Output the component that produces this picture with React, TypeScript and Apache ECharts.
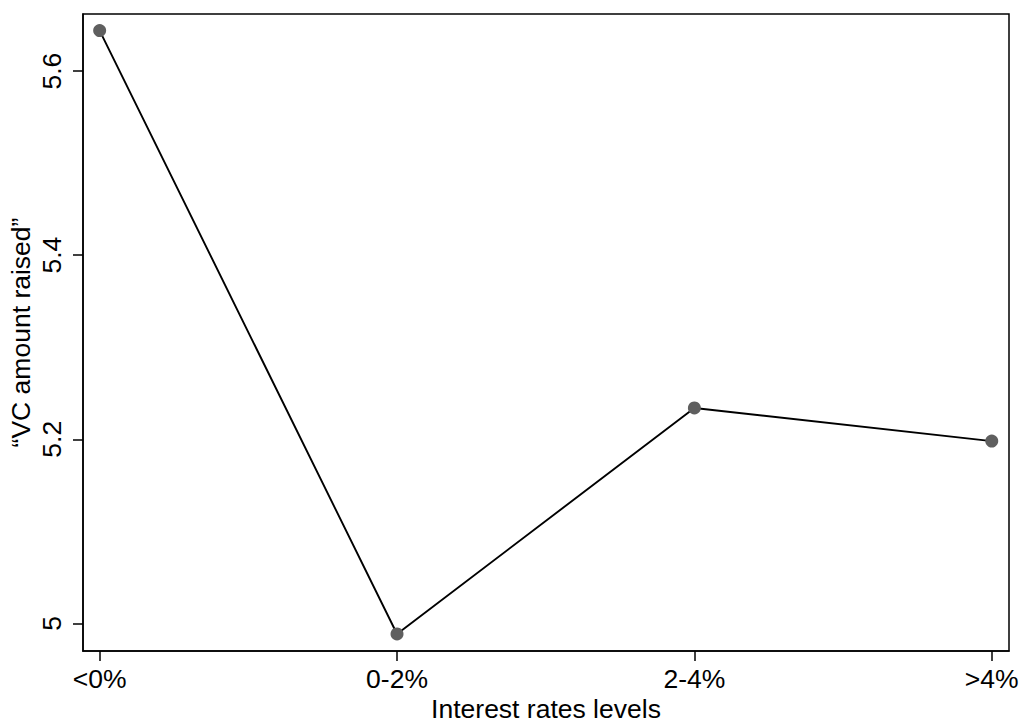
import React, { useEffect, useRef } from "react";
import * as echarts from "echarts";

const categories = ["<0%", "0-2%", "2-4%", ">4%"];
const vcAmount = [5.644, 4.9885, 5.234, 5.198];
const yTicks = [5, 5.2, 5.4, 5.6];
const yTickLabels = ["5", "5.2", "5.4", "5.6"];

const FONT = "'Liberation Sans', Arial, Helvetica, sans-serif";
const FS = 26.5;

export default function App() {
  const ref = useRef<HTMLDivElement>(null);
  useEffect(() => {
    if (!ref.current) return;
    const chart = echarts.init(ref.current, undefined, { renderer: "svg" });
    chart.setOption({
      animation: false,
      backgroundColor: "#fff",
      textStyle: { fontFamily: FONT },
      grid: {
        left: 83,
        right: 14,
        top: 14,
        bottom: 73,
        containLabel: false,
        outerBoundsMode: "none",
        show: true,
        borderColor: "#000",
        borderWidth: 1.5,
        backgroundColor: "transparent",
      },
      xAxis: {
        type: "value",
        min: -0.056,
        max: 3.058,
        name: "Interest rates levels",
        nameLocation: "middle",
        nameGap: 44,
        nameMoveOverlap: false,
        nameTextStyle: { color: "#000", fontSize: FS, fontFamily: FONT },
        axisLine: { show: true, onZero: false, lineStyle: { color: "#000", width: 1.5 } },
        axisTick: {
          show: true,
          length: 10,
          customValues: [0, 1, 2, 3],
          lineStyle: { color: "#000", width: 1.5 },
        },
        axisLabel: {
          customValues: [0, 1, 2, 3],
          formatter: (v: number) => categories[Math.round(v)] ?? "",
          color: "#000",
          fontSize: FS,
          margin: 14,
          fontFamily: FONT,
        },
        splitLine: { show: false },
      },
      yAxis: {
        type: "value",
        min: 4.97,
        max: 5.662,
        name: "\u201cVC amount raised\u201d",
        nameLocation: "middle",
        nameGap: 49,
        nameMoveOverlap: false,
        nameTextStyle: { color: "#000", fontSize: FS, fontFamily: FONT },
        axisLine: { show: true, onZero: false, lineStyle: { color: "#000", width: 1.5 } },
        axisTick: {
          show: true,
          length: 10,
          customValues: yTicks,
          lineStyle: { color: "#000", width: 1.5 },
        },
        axisLabel: {
          customValues: yTicks,
          formatter: (v: number) => {
            const i = yTicks.findIndex((t) => Math.abs(t - v) < 1e-6);
            return i >= 0 ? yTickLabels[i] : "";
          },
          rotate: 90,
          color: "#000",
          fontSize: FS,
          margin: 18,
          fontFamily: FONT,
        },
        splitLine: { show: false },
      },
      series: [
        {
          type: "line",
          data: vcAmount.map((v, i) => [i, v]),
          symbol: "circle",
          symbolSize: 13,
          showSymbol: true,
          lineStyle: { color: "#000", width: 1.9 },
          itemStyle: { color: "#5f5f5f", borderWidth: 0 },
          z: 3,
        },
      ],
    });
    return () => chart.dispose();
  }, []);
  return <div ref={ref} style={{ width: 1023, height: 724, position: "absolute", left: 0, top: 0 }} />;
}
